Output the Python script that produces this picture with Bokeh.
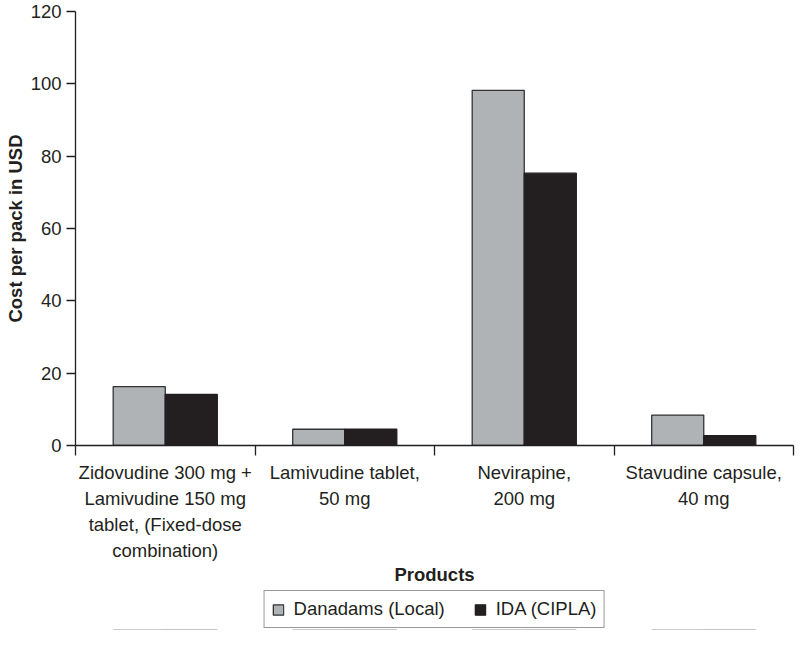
from bokeh.plotting import figure
from bokeh.layouts import column
from bokeh.models import (LinearAxis, FixedTicker, Range1d, Legend, LegendItem, ColumnDataSource)
from bokeh.transform import dodge
from bokeh.embed import file_html
from bokeh.resources import INLINE

categories = [
    "Zidovudine 300 mg +\nLamivudine 150 mg\ntablet, (Fixed-dose\ncombination)",
    "Lamivudine tablet,\n50 mg",
    "Nevirapine,\n200 mg",
    "Stavudine capsule,\n40 mg",
]
danadams = [16.3, 4.5, 98.2, 8.4]
ida = [14.1, 4.5, 75.3, 2.7]
series_names = ["Danadams (Local)", "IDA (CIPLA)"]
y_ticks = [0, 20, 40, 60, 80, 100, 120]

FONT = "Liberation Sans"
FS = "18.5px"
INK = "#231f20"
GRAY = "#b0b3b5"

n = len(categories)
centers = [i + 0.5 for i in range(n)]
bounds = list(range(n + 1))
src = ColumnDataSource(dict(center=centers, danadams=danadams, ida=ida))

p = figure(width=795, height=588, x_range=Range1d(0, n), y_range=Range1d(0, 120),
           output_backend="svg", toolbar_location=None,
           x_axis_location=None, y_axis_location=None,
           min_border_left=67, min_border_right=2, min_border_top=11, min_border_bottom=137)
p.outline_line_color = None
p.background_fill_color = "white"
p.grid.visible = False

bw = 0.29
bar_styles = [dict(fill_color=GRAY, line_color="#333333", line_width=1.3),
              dict(fill_color=INK, line_color=INK, line_width=1.3)]
r1 = p.vbar(x=dodge("center", -bw / 2), top="danadams", width=bw, bottom=0,
            source=src, **bar_styles[0])
r2 = p.vbar(x=dodge("center", bw / 2), top="ida", width=bw, bottom=0,
            source=src, **bar_styles[1])

yaxis = LinearAxis(ticker=FixedTicker(ticks=y_ticks), axis_label="Cost per pack in USD")
yaxis.major_tick_out = 9
yaxis.major_tick_in = 0
yaxis.minor_tick_line_color = None
yaxis.major_label_standoff = 5
yaxis.axis_label_standoff = 2
yaxis.axis_line_color = INK
yaxis.axis_line_width = 1.3
yaxis.major_tick_line_color = INK
yaxis.major_tick_line_width = 1.3
yaxis.major_label_text_font = FONT
yaxis.major_label_text_font_size = FS
yaxis.major_label_text_color = INK
yaxis.axis_label_text_font = FONT
yaxis.axis_label_text_font_size = FS
yaxis.axis_label_text_font_style = "bold"
yaxis.axis_label_text_color = INK
p.add_layout(yaxis, "left")

xlab = LinearAxis(ticker=FixedTicker(ticks=centers, minor_ticks=bounds), axis_label="Products",
                  major_label_overrides={c: lab for c, lab in zip(centers, categories)})
xlab.axis_line_color = INK
xlab.axis_line_width = 1.3
xlab.major_tick_line_color = None
xlab.major_tick_out = 10
xlab.major_tick_in = 0
xlab.minor_tick_line_color = INK
xlab.minor_tick_line_width = 1.3
xlab.minor_tick_out = 10
xlab.minor_tick_in = 0
xlab.major_label_standoff = 6
xlab.axis_label_standoff = 0
xlab.major_label_text_font = FONT
xlab.major_label_text_font_size = FS
xlab.major_label_text_line_height = 1.25
xlab.major_label_text_color = INK
xlab.axis_label_text_font = FONT
xlab.axis_label_text_font_size = FS
xlab.axis_label_text_font_style = "bold"
xlab.axis_label_text_color = INK
p.add_layout(xlab, "below")

# legend strip below the chart (its renderers use the same data, drawn out of view)
p2 = figure(width=795, height=42, x_range=Range1d(0, n), y_range=Range1d(1000, 1001),
            output_backend="svg", toolbar_location=None,
            x_axis_location=None, y_axis_location=None,
            min_border_left=75, min_border_right=2, min_border_top=0, min_border_bottom=0)
p2.outline_line_color = None
p2.grid.visible = False
l1 = p2.vbar(x=dodge("center", -bw / 2), top="danadams", width=bw, bottom=0,
             source=src, **bar_styles[0])
l2 = p2.vbar(x=dodge("center", bw / 2), top="ida", width=bw, bottom=0,
             source=src, **bar_styles[1])

legend = Legend(items=[LegendItem(label=series_names[0], renderers=[l1]),
                       LegendItem(label=series_names[1], renderers=[l2])],
                orientation="horizontal", location="center")
legend.glyph_width = 13
legend.glyph_height = 13
legend.label_standoff = 9
legend.spacing = 29
legend.padding = 7
legend.margin = 0
legend.label_height = 21
legend.border_line_color = "#333333"
legend.border_line_width = 1.3
legend.label_text_font = FONT
legend.label_text_font_size = FS
legend.label_text_color = INK
p2.add_layout(legend)

open("out.html", "w").write(file_html(column(p, p2, spacing=0), INLINE))
